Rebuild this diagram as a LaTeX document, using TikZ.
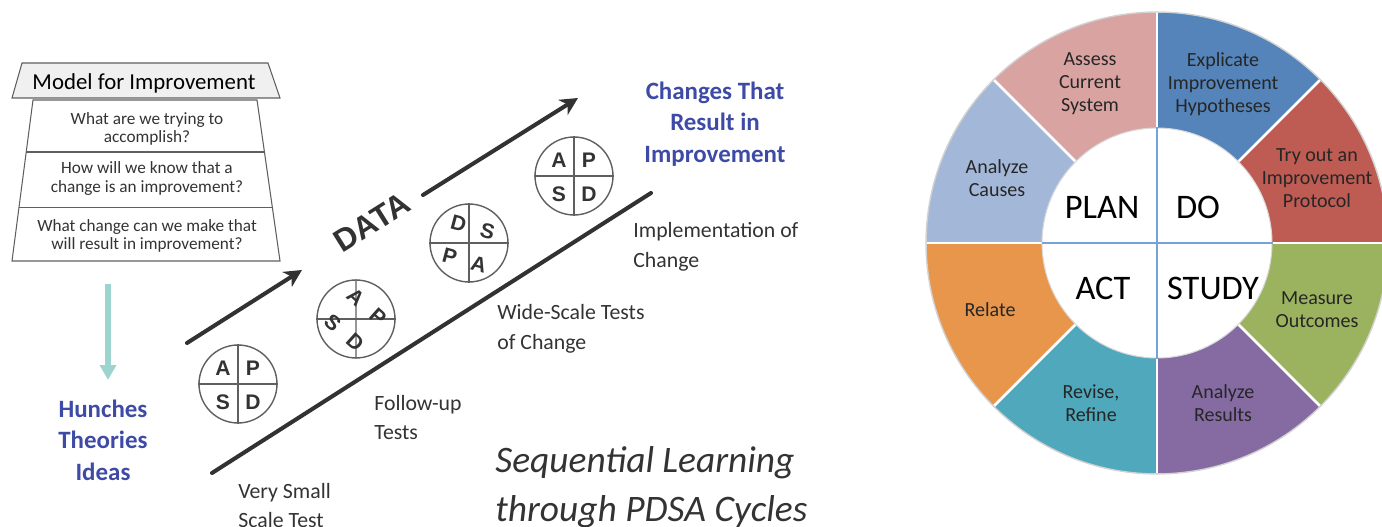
\documentclass[tikz,border=0pt]{standalone}
\usepackage{fontspec}
\setmainfont{Carlito}
\newfontfamily\arialfont{Liberation Sans}
\usetikzlibrary{arrows.meta, positioning, calc}

\definecolor{hunchblue}{RGB}{62, 75, 166}
\definecolor{darktext}{RGB}{51, 51, 51}
\definecolor{arrowgray}{RGB}{50, 50, 50}
\definecolor{ringgray}{RGB}{95, 95, 95}
\definecolor{headgray}{RGB}{240, 240, 240}
\definecolor{tealarrow}{RGB}{158, 212, 208}
\definecolor{crossblue}{RGB}{118, 163, 214}
\definecolor{segpink}{RGB}{217, 163, 162}
\definecolor{segblue}{RGB}{84, 132, 186}
\definecolor{segred}{RGB}{190, 91, 83}
\definecolor{seggreen}{RGB}{155, 179, 94}
\definecolor{segpurple}{RGB}{133, 107, 162}
\definecolor{segteal}{RGB}{79, 168, 187}
\definecolor{segorange}{RGB}{232, 150, 75}
\definecolor{seglight}{RGB}{163, 184, 216}

\tikzset{
  data arrow/.style={line width=2.3pt, arrowgray, line cap=round,
    -{Stealth[length=10pt, width=10pt, inset=3pt]}},
  base line/.style={line width=2.3pt, arrowgray, line cap=round},
  pdsa ring/.style={circle, draw=ringgray, line width=0.8pt, minimum size=1.56cm, inner sep=0pt},
  pdsa letter/.style={font=\arialfont\bfseries\fontsize{12}{14}\selectfont, text=darktext, transform shape},
  stage label/.style={anchor=west, align=left, inner sep=0pt, font=\fontsize{12.4}{17}\selectfont, text=darktext},
  goal label/.style={align=center, font=\bfseries\fontsize{14.2}{18}\selectfont, text=hunchblue},
  question/.style={align=center, font=\fontsize{9.8}{10.4}\selectfont, text=darktext},
  wheel label/.style={align=center, font=\fontsize{11.4}{13}\selectfont, text=black!85},
  phase label/.style={font=\fontsize{19.6}{22}\selectfont, text=black}
}

\begin{document}
\begin{tikzpicture}[x=0.02cm, y=0.02cm]
  \useasboundingbox (0,0) rectangle (1382,527);
  \clip (0,0) rectangle (1382,527);

  % Model for Improvement box
  \coordinate (htl) at (22,464);  \coordinate (htr) at (268,464);
  \coordinate (hbl) at (12,429);  \coordinate (hbr) at (280,429);
  \coordinate (qtl) at (33,427);  \coordinate (qtr) at (257,427);
  \coordinate (qbl) at (12,266);  \coordinate (qbr) at (280,266);
  \draw[ringgray, line width=0.6pt, fill=headgray] (htl) -- (htr) -- (hbr) -- (hbl) -- cycle;
  \draw[ringgray, line width=0.6pt] (qtl) -- (qtr) -- (qbr) -- (qbl) -- cycle;
  \foreach \t in {0.323, 0.665}
    \draw[ringgray, line width=0.6pt] ($(qtl)!\t!(qbl)$) -- ($(qtr)!\t!(qbr)$);
  \node[font=\fontsize{13}{15}\selectfont, text=black] (mtitle) at (144,444) {Model for Improvement};
  \foreach \y/\txt/\nm in {
    398/{What are we trying to\\accomplish?}/q1,
    348.5/{How will we know that a\\change is an improvement?}/q2,
    291/{What change can we make that\\will result in improvement?}/q3
  } {
    \node[question] (\nm) at (147,\y) {\txt};
  }

  % teal arrow down to the ideas
  \coordinate (tstart) at (108,243);
  \coordinate (tend) at (108,147);
  \draw[tealarrow, line width=3.4pt, -{Triangle[length=8.5pt, width=9pt]}] (tstart) -- (tend);
  \node[goal label] (hunch) at (103,87) {Hunches\\Theories\\Ideas};
  \node[goal label] (goal) at (715,403) {Changes That\\Result in\\Improvement};

  % ramp lines
  \coordinate (b1) at (212,54);   \coordinate (b2) at (651,334);
  \coordinate (d1s) at (187,184); \coordinate (d1e) at (302,257);
  \coordinate (d2s) at (423,332); \coordinate (d2e) at (578,429);
  \draw[base line] (b1) -- (b2);
  \draw[data arrow] (d1s) -- (d1e);
  \draw[data arrow] (d2s) -- (d2e);
  \node[font=\arialfont\bfseries\fontsize{18}{20}\selectfont, text=arrowgray, rotate=32] (data) at (372,305) {DATA};

  % PDSA cycles along the ramp
  \foreach \cx/\cy/\rot/\ul/\ur/\dl/\dr/\nm in {
    238/143/0/A/P/S/D/c1,
    356/208/-42/A/P/S/D/c2,
    469/284/-15/D/S/P/A/c3,
    574/351/0/A/P/S/D/c4
  } {
    \begin{scope}[shift={(\cx,\cy)}, rotate=\rot]
      \node[pdsa ring] (\nm) at (0,0) {};
      \draw[ringgray, line width=0.8pt] (\nm.north) -- (\nm.south);
      \draw[ringgray, line width=0.8pt] (\nm.west) -- (\nm.east);
      \node[pdsa letter] at (-15,16) {\ul};
      \node[pdsa letter] at (15,16) {\ur};
      \node[pdsa letter] at (-15,-18) {\dl};
      \node[pdsa letter] at (15,-18) {\dr};
    \end{scope}
  }

  % stage labels
  \foreach \x/\y/\txt/\nm in {
    633/280.5/{Implementation of\\Change}/s4,
    497/198.5/{Wide-Scale Tests\\of Change}/s3,
    374/109.5/{Follow-up\\Tests}/s2,
    238/21.5/{Very Small\\Scale Test}/s1
  } {
    \node[stage label] (\nm) at (\x,\y) {\txt};
  }
  \node[stage label, font=\itshape\fontsize{21.3}{27.8}\selectfont] (seq) at (495,39.5)
    {Sequential Learning\\through PDSA Cycles};

  % PDSA wheel
  \coordinate (wc) at (1157,284);
  \foreach \a/\col in {0/segred, 45/segblue, 90/segpink, 135/seglight,
                       180/segorange, 225/segteal, 270/segpurple, 315/seggreen} {
    \fill[\col] (wc) -- ++(\a:231) arc[start angle=\a, end angle=\a+45, radius=231] -- cycle;
  }
  \foreach \a in {0,45,...,315}
    \draw[white, line width=1.5pt] (wc) -- ++(\a:231);
  \node[circle, draw=gray!35, line width=0.8pt, minimum size=9.24cm, inner sep=0pt] (outer) at (wc) {};
  \node[circle, fill=white, draw=gray!30, line width=0.6pt, minimum size=4.6cm, inner sep=0pt] (inner) at (wc) {};
  \draw[crossblue, line width=0.6pt] (inner.north) -- (inner.south);
  \draw[crossblue, line width=0.6pt] (inner.west) -- (inner.east);

  \foreach \x/\y/\txt/\nm in {
    1102/320/PLAN/plan, 1198/320/DO/do, 1103/239/ACT/act, 1213/239/STUDY/study
  } {
    \node[phase label] (\nm) at (\x,\y) {\txt};
  }
  \foreach \x/\y/\txt/\nm in {
    1090/443/{Assess\\Current\\System}/w1,
    1223/443/{Explicate\\Improvement\\Hypotheses}/w2,
    1317/349/{Try out an\\Improvement\\Protocol}/w3,
    997/349/{Analyze\\Causes}/w4,
    990/217/{Relate}/w5,
    1317/217/{Measure\\Outcomes}/w6,
    1091/124/{Revise,\\Refine}/w7,
    1223/124/{Analyze\\Results}/w8
  } {
    \node[wheel label] (\nm) at (\x,\y) {\txt};
  }
\end{tikzpicture}
\end{document}
